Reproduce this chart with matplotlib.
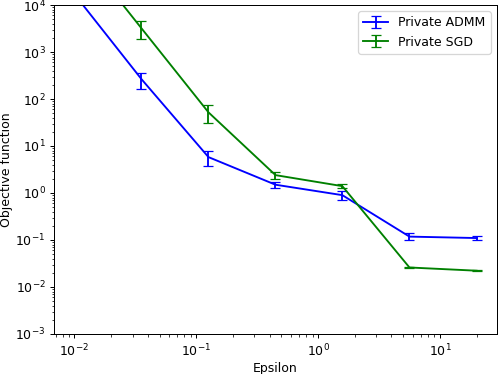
import matplotlib
matplotlib.use('Agg')
import matplotlib.pyplot as plt

# epsilon values and objective function (mean, std) per method
epsilon = [0.01, 0.0355, 0.126, 0.447, 1.58, 5.62, 20.0]

admm_mean = [1.7e4, 265, 5.8, 1.5, 0.9, 0.118, 0.11]
admm_err = [3e3, 100, 2.0, 0.25, 0.2, 0.02, 0.012]

sgd_mean = [2e5, 3200, 52, 2.4, 1.4, 0.026, 0.0222]
sgd_err = [3e4, 1300, 21, 0.42, 0.12, 0.001, 0.0005]

dpi = 90
fig = plt.figure(figsize=(498 / dpi, 374 / dpi), dpi=dpi)
ax = fig.add_subplot(111)
fig.subplots_adjust(left=0.109, right=0.9975, top=0.9866, bottom=0.107)

for mean, err, c, name in [(admm_mean, admm_err, 'b', 'Private ADMM'),
                           (sgd_mean, sgd_err, 'g', 'Private SGD')]:
    line, caps, bars = ax.errorbar(epsilon, mean, yerr=err, color=c, ecolor=c,
                                   capsize=4, label=name)
    for cap in caps:
        cap.set_color(c)
        cap.set_markeredgecolor(c)
    for b in bars:
        b.set_color(c)

ax.set_xscale('log')
ax.set_yscale('log')
ax.set_ylim(1e-3, 1e4)
ax.set_xlabel('Epsilon', labelpad=2)
ax.set_ylabel('Objective function', labelpad=2)
ax.legend(loc='upper right')

fig.savefig('out.png', dpi=dpi)
